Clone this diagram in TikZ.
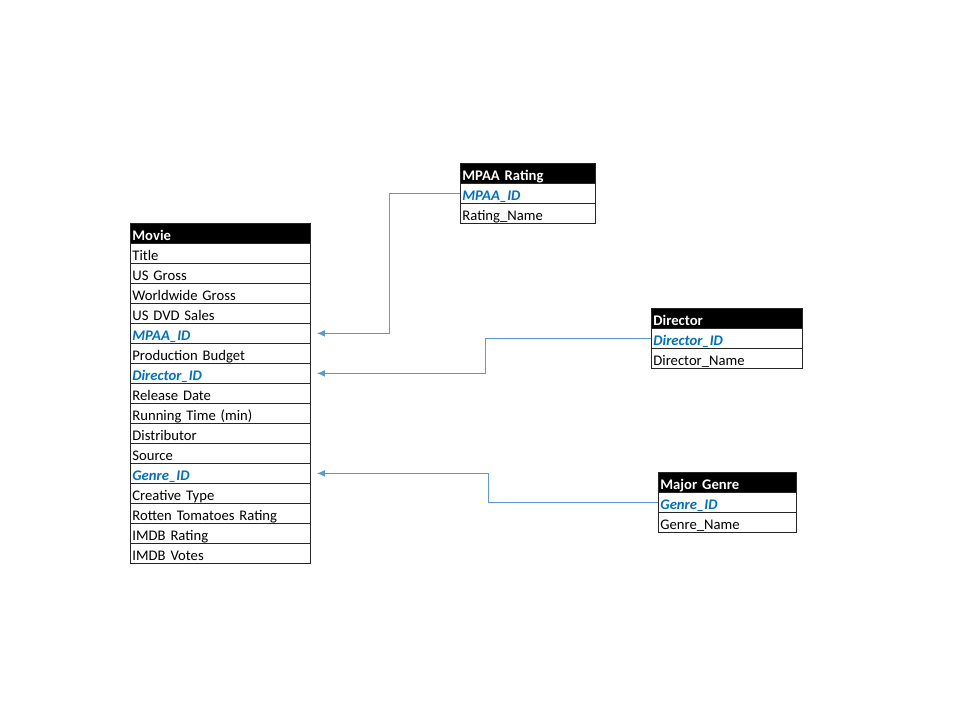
\documentclass[tikz,border=0pt]{standalone}
\usepackage{fontspec}
\setmainfont{Carlito}[WordSpace={0.85,0,0}]
\usetikzlibrary{arrows.meta}
\definecolor{keyblue}{RGB}{0,112,192}
\definecolor{linkblue}{RGB}{91,155,213}
\begin{document}
\begin{tikzpicture}[x=0.75pt, y=-0.75pt]

      \tikzset{cell/.style={draw=black!85, line width=0.6pt, anchor=north west, rectangle, inner xsep=1.5pt, inner ysep=0pt, text height=12.6pt, text depth=2.4pt, text width=#1, align=left, font=\fontsize{11pt}{13pt}\selectfont},
               head/.style={cell=#1, fill=black, text=white, font=\fontsize{11pt}{13pt}\selectfont\bfseries},
               key/.style={cell=#1, text=keyblue, font=\fontsize{11pt}{13pt}\selectfont\bfseries\itshape},
               link/.style={-{Latex[length=6pt, width=5pt]}, draw=linkblue, line width=0.75pt, shorten >=4.5pt}}
      \useasboundingbox (0,0) rectangle (960,720);
%% Movie
      	\node[head=132pt] (m0) at (130,223) {Movie};
      	\node[cell=132pt] (m1) at (130,243) {Title};
      	\node[cell=132pt] (m2) at (130,263) {US Gross};
      	\node[cell=132pt] (m3) at (130,283) {Worldwide Gross};
      	\node[cell=132pt] (m4) at (130,303) {US DVD Sales};
      	\node[key=132pt] (m5) at (130,323) {MPAA\_ID};
      	\node[cell=132pt] (m6) at (130,343) {Production Budget};
      	\node[key=132pt] (m7) at (130,363) {Director\_ID};
      	\node[cell=132pt] (m8) at (130,383) {Release Date};
      	\node[cell=132pt] (m9) at (130,403) {Running Time (min)};
      	\node[cell=132pt] (m10) at (130,423) {Distributor};
      	\node[cell=132pt] (m11) at (130,443) {Source};
      	\node[key=132pt] (m12) at (130,463) {Genre\_ID};
      	\node[cell=132pt] (m13) at (130,483) {Creative Type};
      	\node[cell=132pt] (m14) at (130,503) {Rotten Tomatoes Rating};
      	\node[cell=132pt] (m15) at (130,523) {IMDB Rating};
      	\node[cell=132pt] (m16) at (130,543) {IMDB Votes};
%% MPAA Rating
      	\node[head=98.25pt] (r0) at (460,163) {MPAA Rating};
      	\node[key=98.25pt] (r1) at (460,183) {MPAA\_ID};
      	\node[cell=98.25pt] (r2) at (460,203) {Rating\_Name};
%% Director
      	\node[head=110.25pt] (d0) at (651,308) {Director};
      	\node[key=110.25pt] (d1) at (651,328) {Director\_ID};
      	\node[cell=110.25pt] (d2) at (651,348) {Director\_Name};
%% Major Genre
      	\node[head=100.5pt] (g0) at (658,472) {Major Genre};
      	\node[key=100.5pt] (g1) at (658,492) {Genre\_ID};
      	\node[cell=100.5pt] (g2) at (658,512) {Genre\_Name};
%Links
		\draw [link] (r1.west) -- ++(-71,0) |- (m5.east);
		\draw [link] (d1.west) -- ++(-166,0) |- (m7.east);
		\draw [link] (g1.west) -- ++(-170,0) |- (m12.east);

	\end{tikzpicture}
\end{document}
